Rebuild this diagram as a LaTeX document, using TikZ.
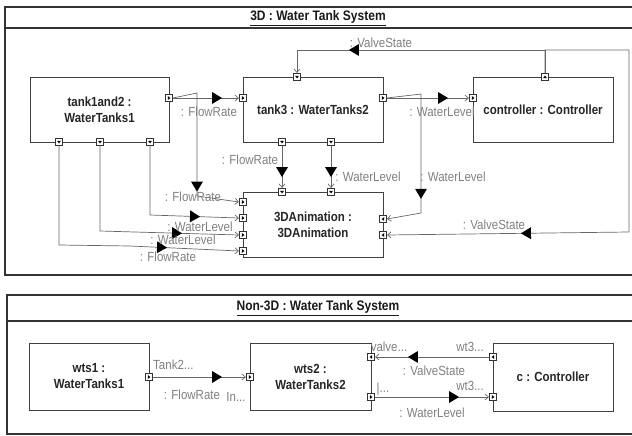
\documentclass[tikz,border=0pt]{standalone}
\usepackage{fontspec}
\usepackage{graphicx}
\setmainfont{Liberation Sans}
\usetikzlibrary{arrows.meta,decorations.markings}
\newcommand\vst[1]{\scalebox{1}[1.15]{#1}}
\begin{document}
\begin{tikzpicture}[x=1pt,y=-1pt,
  frame/.style={draw=black!80, line width=1.2pt},
  blk/.style={draw=black!75, line width=0.8pt, align=center, inner sep=1pt,
    font=\fontsize{11.5}{16}\selectfont\bfseries, text=black!85},
  port/.style={draw=black!80, fill=white, minimum size=7.5pt, inner sep=0pt, line width=0.6pt},
  portR/.style={port, path picture={\fill[black] ([xshift=-1.2pt,yshift=-2pt]path picture bounding box.center) -- ++(0pt,4pt) -- ++(2.6pt,-2pt) -- cycle;}},
  portL/.style={port, path picture={\fill[black] ([xshift=1.2pt,yshift=-2pt]path picture bounding box.center) -- ++(0pt,4pt) -- ++(-2.6pt,-2pt) -- cycle;}},
  portD/.style={port, path picture={\fill[black] ([xshift=-2pt,yshift=1.2pt]path picture bounding box.center) -- ++(4pt,0pt) -- ++(-2pt,-2.6pt) -- cycle;}},
  portU/.style={port, path picture={\fill[black] ([xshift=-2pt,yshift=-1.2pt]path picture bounding box.center) -- ++(4pt,0pt) -- ++(-2pt,2.6pt) -- cycle;}},
  conn/.style={draw=black!60, line width=0.7pt, -{Straight Barb[length=3.5pt,width=6pt]}},
  flowat/.style={postaction={decorate,decoration={markings,mark=at position #1 with {\fill[black] (0pt,0pt) -- (-10pt,6pt) -- (-10pt,-6pt) -- cycle;}}}},
  lbl/.style={text=black!50, font=\fontsize{11.5}{13}\selectfont, inner sep=0pt},
  ttl/.style={font=\fontsize{12}{14}\selectfont\bfseries, inner sep=0pt, text=black!90}
]
\useasboundingbox (0,0) rectangle (632,436);

% ---------- top frame ----------
\draw[frame] (632,7) -- (5,7) -- (5,275) -- (632,275);
\draw[frame] (5,28) -- (632,28);
\node[ttl] (title1) at (318,18) {\vst{\underline{3D : Water Tank System}}};

\node[blk, minimum width=139pt, minimum height=65pt] (t12) at (99.5,109.5) {\vst{tank1and2 :}\\\vst{WaterTanks1}};
\node[blk, minimum width=140pt, minimum height=65pt] (t3) at (313,109.5) {\vst{tank3 : WaterTanks2}};
\node[blk, minimum width=140pt, minimum height=65pt] (ctrl) at (543,109.5) {\vst{controller : Controller}};
\node[blk, minimum width=140pt, minimum height=65pt] (anim) at (313,224.5) {\vst{3DAnimation :}\\\vst{3DAnimation}};

% ports
\node[portR] (p1) at (169,98) {};
\node[portR] (p2) at (243,98) {};
\node[portD] (p3) at (297,77) {};
\node[portR] (p4) at (383,98) {};
\node[portR] (p5) at (473,98) {};
\node[portU] (p6) at (545,77) {};
\node[portD] (p7) at (59,142) {};
\node[portD] (p8) at (100,142) {};
\node[portD] (p9) at (150,142) {};
\node[portD] (p10) at (282,142) {};
\node[portD] (p11) at (331,142) {};
\node[portD] (p12) at (282,192) {};
\node[portD] (p13) at (331,192) {};
\node[portR] (q1) at (243,202) {};
\node[portR] (q2) at (243,218) {};
\node[portR] (q3) at (243,235) {};
\node[portR] (q4) at (243,251) {};
\node[portL] (r1) at (383,219) {};
\node[portL] (r2) at (383,235) {};

% connectors
\draw[conn, flowat=49pt] (p1.east) -- (p2.west);
\draw[conn, flowat=123pt] (p1.east) -- (197,93) -- (197,196) -- (q1.west);
\draw[conn, flowat=61pt] (p4.east) -- (p5.west);
\draw[conn, flowat=139pt] (p4.east) -- (421,94) -- (421,213) -- (r1.east);
\draw[conn, flowat=219pt] (p6.north) -- (545,50) -| (p3.north);
\draw[conn, flowat=397pt] (p6.north) -- (545,50) -| (629,232) -- (r2.east);
\draw[conn, flowat=31pt] (p10.south) -- (p12.north);
\draw[conn, flowat=31pt] (p11.south) -- (p13.north);
\draw[conn, flowat=119pt] (p9.south) -- (150,215) -- (q2.west);
\draw[conn, flowat=167pt] (p8.south) -- (100,231) -- (q3.west);
\draw[conn, flowat=207pt] (p7.south) -- (59,245) -- (130,246) -- (q4.west);

% labels
\node[lbl] (l1) at (209,112) {\vst{: FlowRate}};
\node[lbl] (l2) at (442,112) {\vst{: WaterLevel}};
\node[lbl] (l3) at (381,43) {\vst{: ValveState}};
\node[lbl] (l4) at (494,225) {\vst{: ValveState}};
\node[lbl] (l5) at (453,177) {\vst{: WaterLevel}};
\node[lbl] (l6) at (250,160) {\vst{: FlowRate}};
\node[lbl] (l7) at (368,177) {\vst{: WaterLevel}};
\node[lbl] (l8) at (193,197) {\vst{: FlowRate}};
\node[lbl] (l9) at (200,227) {\vst{: WaterLevel}};
\node[lbl] (l10) at (183,240) {\vst{: WaterLevel}};
\node[lbl] (l11) at (168,257) {\vst{: FlowRate}};

% ---------- bottom frame ----------
\draw[frame] (632,295) -- (7,295) -- (7,434) -- (632,434);
\draw[frame] (7,321) -- (632,321);
\node[ttl] (title2) at (318,308) {\vst{\underline{Non-3D : Water Tank System}}};

\node[blk, minimum width=120pt, minimum height=67pt] (w1) at (89,376.5) {\vst{wts1 :}\\\vst{WaterTanks1}};
\node[blk, minimum width=121pt, minimum height=67pt] (w2) at (310.5,376.5) {\vst{wts2 :}\\\vst{WaterTanks2}};
\node[blk, minimum width=120pt, minimum height=68pt] (c) at (553,377) {\vst{c : Controller}};

\node[portR] (b1) at (149,377) {};
\node[portR] (b2) at (250,377) {};
\node[portL] (b3) at (371,357) {};
\node[portR] (b4) at (371,397) {};
\node[portL] (b5) at (493,357) {};
\node[portR] (b6) at (493,397) {};

\draw[conn, flowat=69pt] (b1.east) -- (b2.west);
\draw[conn, flowat=81pt] (b5.west) -- (b3.east);
\draw[conn, flowat=84pt] (b4.east) -- (b6.west);

\node[lbl, anchor=west] (m1) at (153,365) {\vst{Tank2...}};
\node[lbl] (m2) at (192,395) {\vst{: FlowRate}};
\node[lbl] (m3) at (236,397) {\vst{In...}};
\node[lbl] (m4) at (389,347) {\vst{valve...}};
\node[lbl] (m5) at (470,347) {\vst{wt3...}};
\node[lbl] (m6) at (434,371) {\vst{: ValveState}};
\node[lbl] (m7) at (383,389) {\vst{|...}};
\node[lbl] (m8) at (470,386) {\vst{wt3...}};
\node[lbl] (m9) at (432,413) {\vst{: WaterLevel}};
\end{tikzpicture}
\end{document}
